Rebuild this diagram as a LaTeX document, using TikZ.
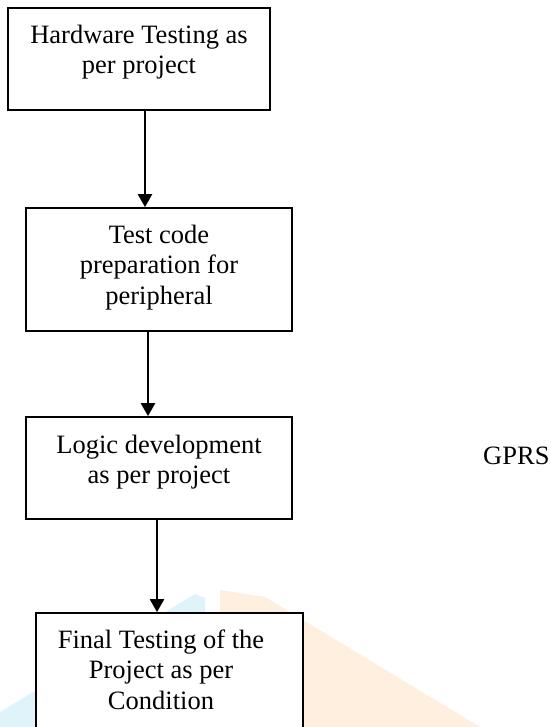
\documentclass[tikz,border=0pt]{standalone}
\usepackage{fontspec}
\setmainfont{Liberation Serif}
\usetikzlibrary{arrows.meta}
\definecolor{wmcyan}{RGB}{222,243,250}
\definecolor{wmorange}{RGB}{254,239,223}
\tikzset{
  stepbox/.style={draw=black, line width=1.7pt, fill=white, rectangle, inner sep=0pt},
  lbl/.style={font=\fontsize{26.5}{30.5}\selectfont, align=center, inner sep=0pt, anchor=north},
  arr/.style={line width=2.2pt, -{Triangle[length=13pt,width=14pt]}},
}
\begin{document}
\begin{tikzpicture}[x=1pt,y=-1pt]
\useasboundingbox (0,0) rectangle (550,727);
\clip (0,0) rectangle (550,727);
% faint watermark
\fill[wmcyan] (0,712) -- (195,594) -- (205,598) -- (205,727) -- (0,727) -- cycle;
\fill[wmorange] (220,590) -- (265,597) -- (480,727) -- (220,727) -- cycle;
% boxes
\node[stepbox, minimum width=262pt, minimum height=102pt] (b1) at (139,59) {};
\node[stepbox, minimum width=266pt, minimum height=123pt] (b2) at (159,269.5) {};
\node[stepbox, minimum width=266pt, minimum height=102pt] (b3) at (159,468) {};
\node[stepbox, minimum width=267pt, minimum height=132pt] (b4) at (169.5,679) {};
% texts
\node[lbl] (t1) at (139,23) {\rule{0pt}{20pt}Hardware Testing as\\per project};
\node[lbl] (t2) at (159,223) {\rule{0pt}{20pt}Test code\\preparation for\\peripheral};
\node[lbl] (t3) at (159,433) {\rule{0pt}{20pt}Logic development\\as per project};
\node[lbl] (t4) at (161,628) {\rule{0pt}{20pt}Final Testing of the\\Project as per\\Condition};
\node[font=\fontsize{26.5}{30.5}\selectfont, inner sep=0pt, anchor=base west] (gprs) at (483,464) {GPRS};
% arrows
\draw[arr] ([xshift=6pt]b1.south) -- ([xshift=-14pt]b2.north);
\draw[arr] ([xshift=-11pt]b2.south) -- ([xshift=-11pt]b3.north);
\draw[arr] ([xshift=-2pt]b3.south) -- ([xshift=-12.5pt]b4.north);
\end{tikzpicture}
\end{document}
